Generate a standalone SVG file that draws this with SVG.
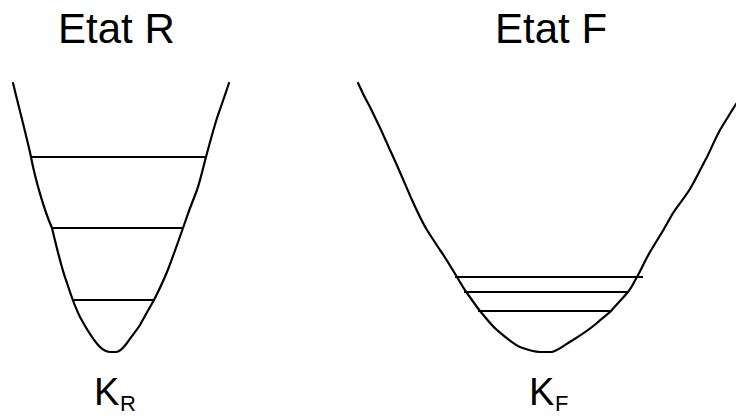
<svg xmlns="http://www.w3.org/2000/svg" width="736" height="416" viewBox="0 0 736 416">
<style>
.curve{fill:none;stroke:#000;stroke-width:2.2;stroke-linejoin:round;stroke-linecap:round}
.lvl{stroke:#000;stroke-width:2.2}
.title{font-family:"Liberation Sans",Arial,sans-serif;font-size:42px;fill:#000}
.k{font-family:"Liberation Sans",Arial,sans-serif;font-size:38px;fill:#000}
.sub{font-family:"Liberation Sans",Arial,sans-serif;font-size:22px;fill:#000}
</style>
<rect width="736" height="416" fill="#fff"/>
<g id="stateR">
<text class="title" x="58" y="43">Etat R</text>
<path class="curve" d="M13,83 C18,104 27,138 31,157 C35,178 44,210 52,228 C56,245 62,270 67,283 C71,295 74,305 80,317 C86,328 93,340 100,347 C104,351 108,352 111,352 L116,352 C120,352 124,347 127,343 C132,336 136,331 140,325 C146,314 150,307 154,300 C158,292 163,282 167,272 C171,262 176,248 183,228 C187,216 193,200 197,190 C201,178 203,168 206,157 C210,142 214,127 218,115 C222,104 226,92 229,83"/>
<line class="lvl" x1="31" y1="157" x2="206" y2="157"/>
<line class="lvl" x1="52" y1="228" x2="183" y2="228"/>
<line class="lvl" x1="73" y1="300" x2="155" y2="300"/>
<text class="k" x="94" y="405">K</text>
<text class="sub" x="120" y="411">R</text>
</g>
<g id="stateF">
<text class="title" x="495" y="43">Etat F</text>
<path class="curve" d="M358,83 C362,92 366,100 370,107 C377,121 384,136 390,150 C398,167 405,184 412,200 C417,211 422,222 427,230 C432,238 436,244 440,250 C447,260 452,269 457,277 C461,284 464,289 467,293 C472,300 476,306 480,311 C486,318 491,325 497,330 C504,336 512,343 520,347 C528,350 534,352 540,352 L552,352 C560,350 567,343 573,340 C581,335 590,329 597,323 C602,318 607,315 611,311 C617,304 623,298 628,292 C632,287 634,282 637,277 C642,268 647,256 653,247 C660,236 667,224 673,213 C679,204 685,197 690,189 C696,179 701,168 707,157 C712,147 715,139 720,130 C726,120 731,112 736,104"/>
<line class="lvl" x1="455" y1="277" x2="643" y2="277"/>
<line class="lvl" x1="464" y1="292" x2="628" y2="292"/>
<line class="lvl" x1="478" y1="311" x2="611" y2="311"/>
<text class="k" x="529" y="405">K</text>
<text class="sub" x="555" y="411">F</text>
</g>
<g id="connectors"/>
</svg>
